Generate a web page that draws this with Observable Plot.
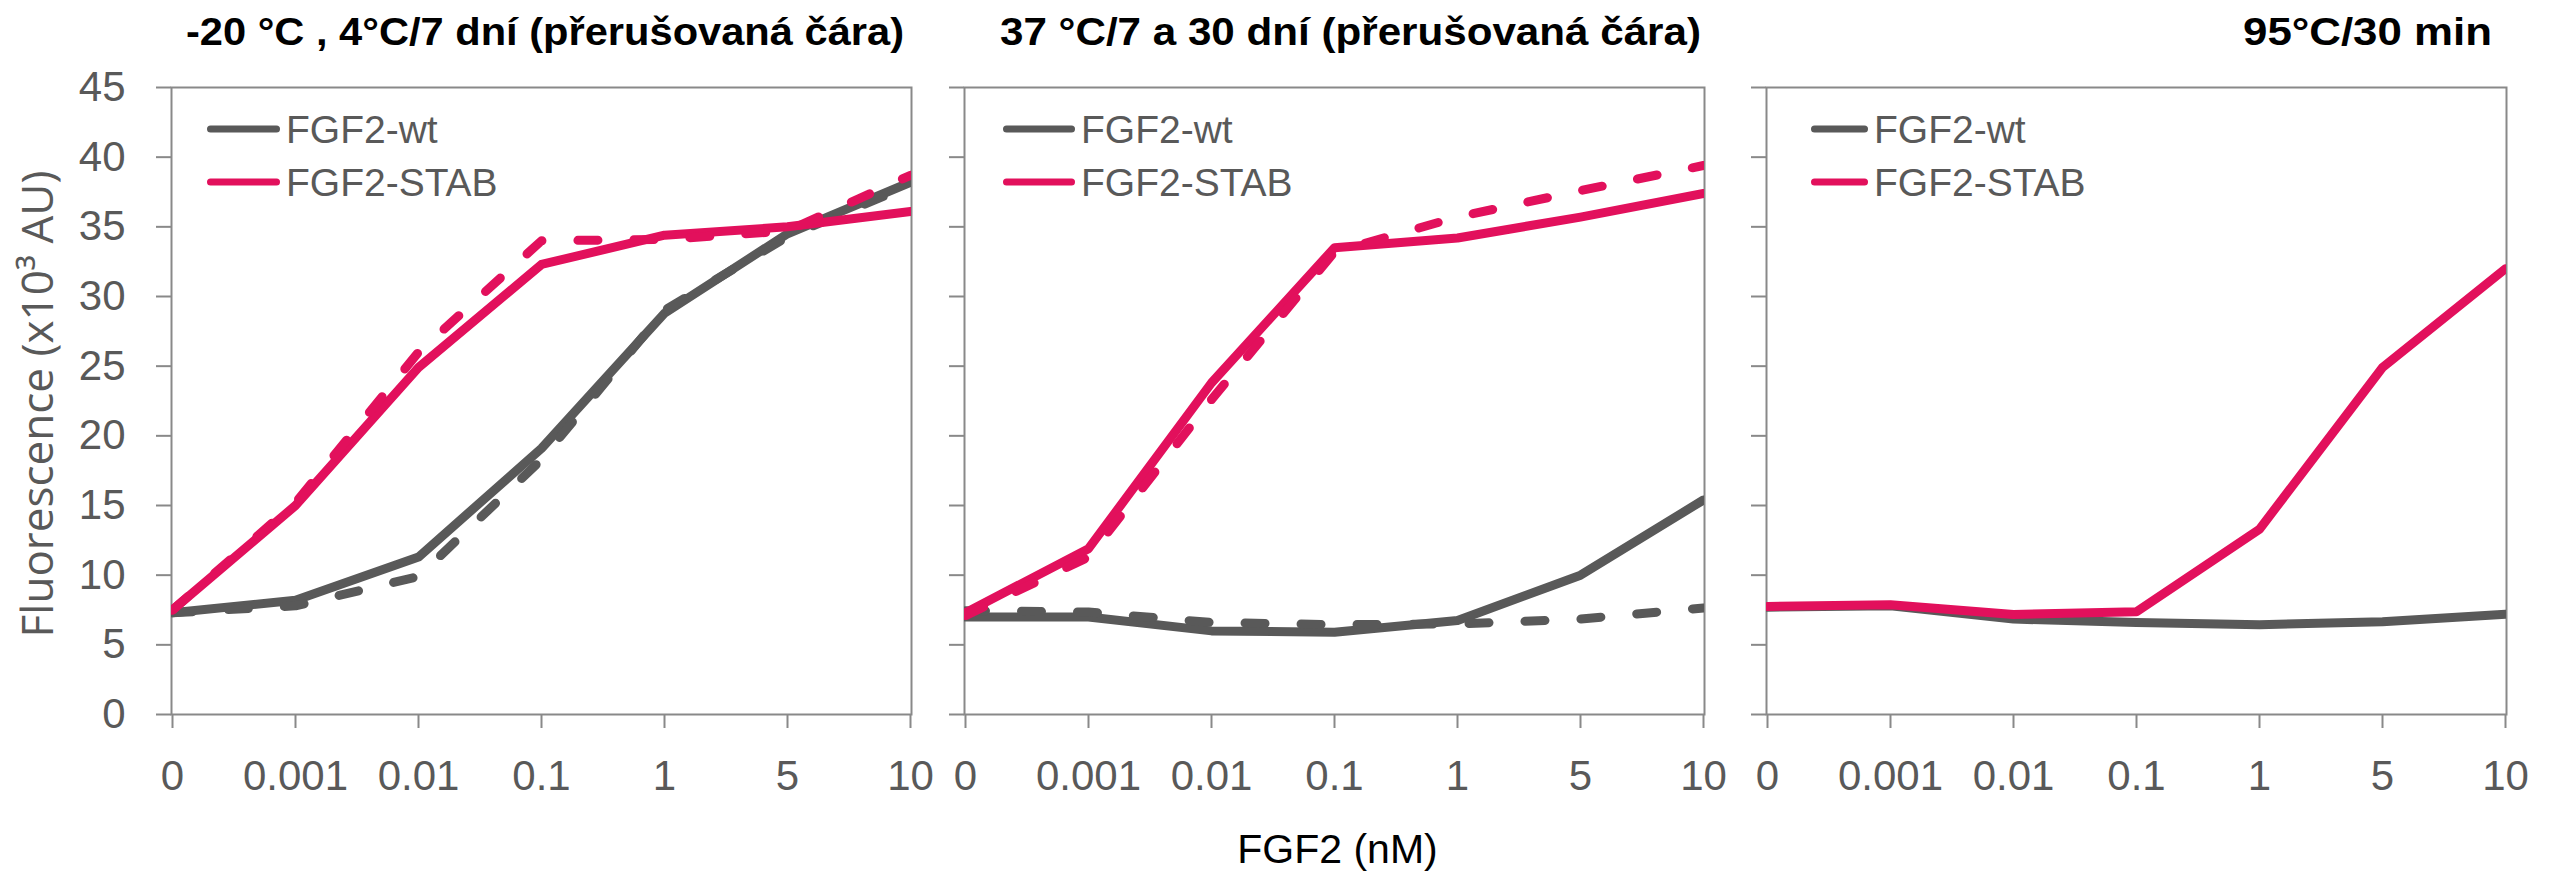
<!DOCTYPE html>
<html>
<head>
<meta charset="utf-8">
<script src="https://cdn.jsdelivr.net/npm/d3@7"></script>
<script src="https://cdn.jsdelivr.net/npm/@observablehq/plot@0.6"></script>
<style>
  html, body { margin: 0; padding: 0; background: #ffffff; }
  #wrap { position: relative; width: 2551px; height: 871px; background: #ffffff; overflow: hidden; }
</style>
</head>
<body>
<div id="wrap"></div>
<script>
// ---------- data ----------
const concentrations = ["0", "0.001", "0.01", "0.1", "1", "5", "10"];
const yTicks = [0, 5, 10, 15, 20, 25, 30, 35, 40, 45];
const seriesNames = ["FGF2-wt", "FGF2-STAB"];
const seriesColors = ["#595959", "#e2105c"];
const panelTitles = [
  "-20 °C , 4°C/7 dní (přerušovaná čára)",
  "37 °C/7 a 30 dní (přerušovaná čára)",
  "95°C/30 min"
];
const yLabel = "Fluorescence (x10³ AU)";
const xLabel = "FGF2 (nM)";

// panel 1: -20 °C (solid), 4 °C / 7 days (dashed)
const p1WtSolid   = [7.3, 8.2, 11.3, 19.1, 28.8, 34.5, 38.2];
const p1WtDashed  = [7.3, 7.8, 9.9, 18.3, 29.0, 34.3, 38.0];
const p1StabSolid = [7.5, 15.0, 24.9, 32.3, 34.4, 35.0, 36.1];
const p1StabDashed= [7.5, 15.2, 26.0, 34.0, 34.1, 34.7, 38.7];
// panel 2: 37 °C / 7 days (solid), 30 days (dashed)
const p2WtSolid   = [7.0, 7.0, 6.0, 5.9, 6.75, 10.0, 15.4];
const p2WtDashed  = [7.45, 7.35, 6.6, 6.45, 6.5, 6.85, 7.65];
const p2StabSolid = [7.3, 11.9, 23.8, 33.5, 34.2, 35.7, 37.4];
const p2StabDashed= [7.1, 11.3, 22.6, 33.2, 35.7, 37.6, 39.4];
// panel 3: 95 °C / 30 min
const p3WtSolid   = [7.7, 7.8, 6.85, 6.6, 6.45, 6.65, 7.2];
const p3StabSolid = [7.75, 7.87, 7.18, 7.37, 13.3, 24.9, 32.0];

// ---------- helpers ----------
const rows = (vals) => concentrations.map((c, i) => ({conc: c, value: vals[i]}));
const AXIS = "#898989";
const TEXT = "#595959";
const FONT = "'Liberation Sans', Arial, sans-serif";
const LW = 9;

function solid(vals, color) {
  return Plot.line(rows(vals), {x: "conc", y: "value", stroke: color, strokeWidth: LW,
    strokeLinecap: "round", strokeLinejoin: "round", clip: true});
}
function dashed(vals, color) {
  return Plot.line(rows(vals), {x: "conc", y: "value", stroke: color, strokeWidth: LW,
    strokeLinecap: "round", strokeLinejoin: "round", strokeDasharray: "20,36", clip: true});
}

function decor(cfg) {
  return (index, scales, values, dims) => {
    const g = d3.create("svg:g");
    const left = dims.marginLeft;
    const right = dims.width - dims.marginRight;
    const top = dims.marginTop;
    g.append("text")
      .attr("x", right + cfg.titleDx)
      .attr("y", 45)
      .attr("text-anchor", "end")
      .attr("font-family", FONT)
      .attr("font-weight", "bold")
      .attr("font-size", 39)
      .attr("fill", "#000000")
      .attr("textLength", cfg.titleWidth)
      .attr("lengthAdjust", "spacingAndGlyphs")
      .text(cfg.title);
    seriesNames.forEach((name, i) => {
      const cy = top + 42 + i * 53;
      g.append("line")
        .attr("x1", left + cfg.legX + 3.5)
        .attr("x2", left + cfg.legX + cfg.legLen - 3.5)
        .attr("y1", cy).attr("y2", cy)
        .attr("stroke", seriesColors[i])
        .attr("stroke-width", 7)
        .attr("stroke-linecap", "round");
      g.append("text")
        .attr("x", left + cfg.legX + cfg.legLen + 6)
        .attr("y", cy)
        .attr("dy", "0.36em")
        .attr("text-anchor", "start")
        .attr("font-family", FONT)
        .attr("font-size", 39)
        .attr("fill", TEXT)
        .text(name);
    });
    return g.node();
  };
}

function panel(opts) {
  const marks = [
    Plot.axisY({ticks: yTicks, tickSize: 15, tickPadding: 31, stroke: AXIS, strokeWidth: 2,
      fill: TEXT, fontSize: 42, fontFamily: FONT, label: null,
      tickFormat: opts.yLabels ? (d => String(d)) : (() => "")}),
    Plot.axisX({tickSize: 14, tickPadding: 32, stroke: AXIS, strokeWidth: 2,
      fill: TEXT, fontSize: 42, fontFamily: FONT, label: null}),
    Plot.frame({stroke: AXIS, strokeWidth: 2}),
    ...opts.lines,
    decor(opts.decor),
    ...(opts.extra || [])
  ];
  const svg = Plot.plot({
    width: opts.width,
    height: 871,
    marginLeft: opts.marginLeft,
    marginRight: opts.marginRight,
    marginTop: 87,
    marginBottom: 157,
    x: {type: "point", domain: concentrations, padding: 0},
    y: {domain: [0, 45]},
    style: {background: "white", fontFamily: FONT, fontSize: "42px", color: TEXT, overflow: "visible"},
    marks
  });
  svg.style.position = "absolute";
  svg.style.left = opts.left + "px";
  svg.style.top = "0px";
  return svg;
}

const wrap = document.getElementById("wrap");

wrap.appendChild(panel({
  left: 0, width: 935, marginLeft: 171, marginRight: 24, yLabels: true,
  lines: [
    solid(p1WtSolid, seriesColors[0]),
    dashed(p1WtDashed, seriesColors[0]),
    solid(p1StabSolid, seriesColors[1]),
    dashed(p1StabDashed, seriesColors[1])
  ],
  decor: {title: panelTitles[0], titleDx: -7, titleWidth: 718, legX: 36, legLen: 73},
  extra: [
    Plot.text([yLabel], {text: d => d, frameAnchor: "left", rotate: -90, dx: -133, dy: 3,
      fontSize: 44, fontFamily: "'Open Sans', sans-serif", fill: TEXT,
      textAnchor: "middle", lineAnchor: "middle"})
  ]
}));

wrap.appendChild(panel({
  left: 935, width: 800, marginLeft: 29, marginRight: 31, yLabels: false,
  lines: [
    solid(p2WtSolid, seriesColors[0]),
    dashed(p2WtDashed, seriesColors[0]),
    solid(p2StabSolid, seriesColors[1]),
    dashed(p2StabDashed, seriesColors[1])
  ],
  decor: {title: panelTitles[1], titleDx: -3, titleWidth: 701, legX: 39, legLen: 72},
  extra: [
    Plot.text([xLabel], {text: d => d, frameAnchor: "bottom", dx: 3, dy: 135,
      fontSize: 41, fontFamily: FONT, fill: "#000000", lineAnchor: "middle"})
  ]
}));

wrap.appendChild(panel({
  left: 1735, width: 816, marginLeft: 31, marginRight: 45, yLabels: false,
  lines: [
    solid(p3WtSolid, seriesColors[0]),
    solid(p3StabSolid, seriesColors[1])
  ],
  decor: {title: panelTitles[2], titleDx: -14, titleWidth: 249, legX: 45, legLen: 57}
}));
</script>
</body>
</html>
